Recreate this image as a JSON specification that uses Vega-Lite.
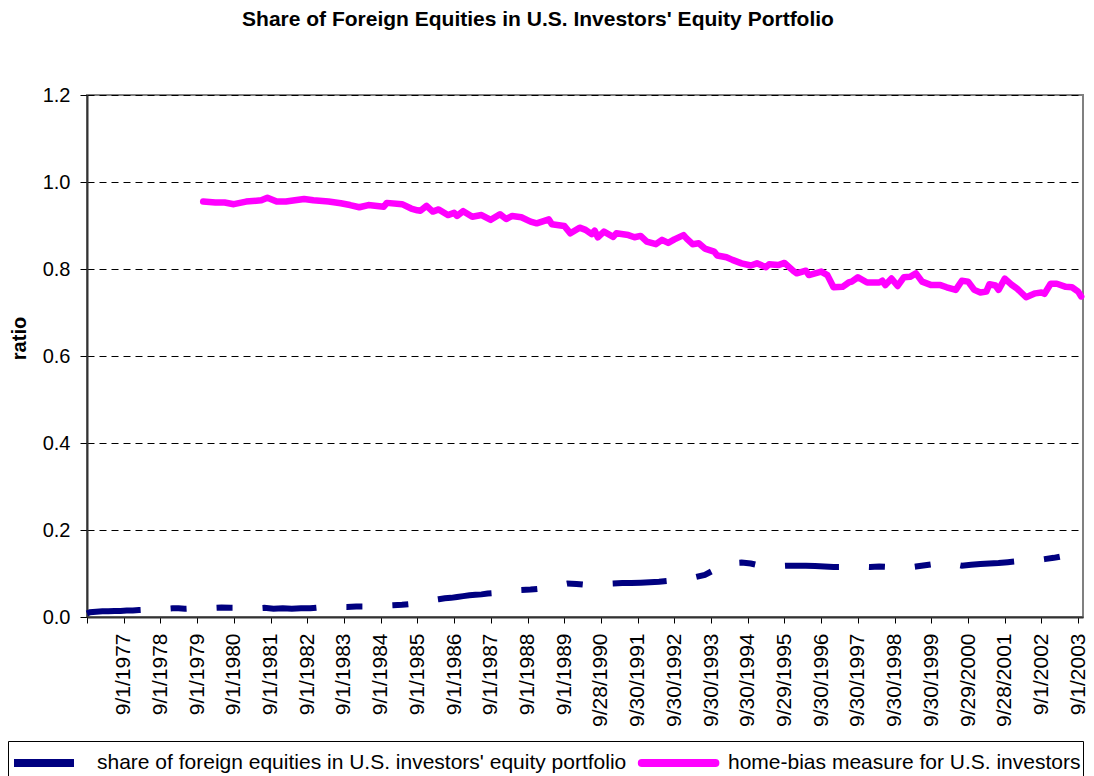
{
  "$schema": "https://vega.github.io/schema/vega-lite/v6.json",
  "width": 996,
  "height": 522,
  "autosize": {"type": "none"},
  "padding": {"left": 87, "top": 95, "right": 11, "bottom": 159},
  "background": "white",
  "title": {
    "text": "Share of Foreign Equities in U.S. Investors' Equity Portfolio",
    "font": "Liberation Sans",
    "fontSize": 21,
    "fontWeight": "bold",
    "color": "black",
    "anchor": "middle",
    "dx": -47,
    "offset": 55
  },
  "config": {
    "font": "Liberation Sans",
    "view": {"stroke": "#808080", "strokeWidth": 2}
  },
  "datasets": {
    "share": [
      {"date": "1976-09-01", "ratio": 0.008},
      {"date": "1976-10-01", "ratio": 0.011},
      {"date": "1976-12-01", "ratio": 0.012},
      {"date": "1977-02-01", "ratio": 0.013},
      {"date": "1977-04-01", "ratio": 0.013},
      {"date": "1977-06-01", "ratio": 0.014},
      {"date": "1977-08-01", "ratio": 0.014},
      {"date": "1977-10-01", "ratio": 0.015},
      {"date": "1977-12-01", "ratio": 0.015},
      {"date": "1978-02-01", "ratio": 0.016},
      {"date": "1978-05-01", "ratio": 0.017},
      {"date": "1978-08-01", "ratio": 0.018},
      {"date": "1978-11-01", "ratio": 0.019},
      {"date": "1979-01-01", "ratio": 0.020},
      {"date": "1979-03-01", "ratio": 0.020},
      {"date": "1979-05-01", "ratio": 0.019},
      {"date": "1979-08-01", "ratio": 0.020},
      {"date": "1979-11-01", "ratio": 0.021},
      {"date": "1980-02-01", "ratio": 0.021},
      {"date": "1980-05-01", "ratio": 0.022},
      {"date": "1980-08-01", "ratio": 0.021},
      {"date": "1980-11-01", "ratio": 0.021},
      {"date": "1981-02-01", "ratio": 0.020},
      {"date": "1981-05-01", "ratio": 0.020},
      {"date": "1981-07-01", "ratio": 0.021},
      {"date": "1981-10-01", "ratio": 0.019},
      {"date": "1982-01-01", "ratio": 0.020},
      {"date": "1982-04-01", "ratio": 0.019},
      {"date": "1982-07-01", "ratio": 0.020},
      {"date": "1982-10-01", "ratio": 0.020},
      {"date": "1983-01-01", "ratio": 0.022},
      {"date": "1983-04-01", "ratio": 0.023},
      {"date": "1983-07-01", "ratio": 0.023},
      {"date": "1983-10-01", "ratio": 0.023},
      {"date": "1984-01-01", "ratio": 0.024},
      {"date": "1984-04-01", "ratio": 0.024},
      {"date": "1984-07-01", "ratio": 0.025},
      {"date": "1984-10-01", "ratio": 0.026},
      {"date": "1985-01-01", "ratio": 0.027},
      {"date": "1985-04-01", "ratio": 0.028},
      {"date": "1985-07-01", "ratio": 0.030},
      {"date": "1985-10-01", "ratio": 0.034},
      {"date": "1986-01-01", "ratio": 0.038},
      {"date": "1986-04-01", "ratio": 0.041},
      {"date": "1986-06-01", "ratio": 0.043},
      {"date": "1986-08-01", "ratio": 0.044},
      {"date": "1986-10-01", "ratio": 0.046},
      {"date": "1986-12-01", "ratio": 0.048},
      {"date": "1987-02-01", "ratio": 0.050},
      {"date": "1987-04-01", "ratio": 0.051},
      {"date": "1987-06-01", "ratio": 0.052},
      {"date": "1987-08-01", "ratio": 0.054},
      {"date": "1987-10-01", "ratio": 0.055},
      {"date": "1988-01-01", "ratio": 0.058},
      {"date": "1988-04-01", "ratio": 0.060},
      {"date": "1988-07-01", "ratio": 0.062},
      {"date": "1988-10-01", "ratio": 0.063},
      {"date": "1989-01-01", "ratio": 0.065},
      {"date": "1989-04-01", "ratio": 0.069},
      {"date": "1989-07-01", "ratio": 0.073},
      {"date": "1989-10-01", "ratio": 0.077},
      {"date": "1990-01-01", "ratio": 0.076},
      {"date": "1990-04-01", "ratio": 0.074},
      {"date": "1990-07-01", "ratio": 0.076},
      {"date": "1990-10-01", "ratio": 0.076},
      {"date": "1991-01-01", "ratio": 0.077},
      {"date": "1991-04-01", "ratio": 0.078},
      {"date": "1991-07-01", "ratio": 0.078},
      {"date": "1991-10-01", "ratio": 0.079},
      {"date": "1992-01-01", "ratio": 0.080},
      {"date": "1992-04-01", "ratio": 0.081},
      {"date": "1992-07-01", "ratio": 0.083},
      {"date": "1992-10-01", "ratio": 0.085},
      {"date": "1993-01-01", "ratio": 0.088},
      {"date": "1993-04-01", "ratio": 0.092},
      {"date": "1993-07-01", "ratio": 0.097},
      {"date": "1993-10-01", "ratio": 0.108},
      {"date": "1994-01-01", "ratio": 0.120},
      {"date": "1994-04-01", "ratio": 0.124},
      {"date": "1994-07-01", "ratio": 0.125},
      {"date": "1994-10-01", "ratio": 0.123},
      {"date": "1995-01-01", "ratio": 0.118},
      {"date": "1995-04-01", "ratio": 0.116},
      {"date": "1995-07-01", "ratio": 0.117},
      {"date": "1995-10-01", "ratio": 0.118},
      {"date": "1996-01-01", "ratio": 0.118},
      {"date": "1996-04-01", "ratio": 0.118},
      {"date": "1996-07-01", "ratio": 0.117},
      {"date": "1996-10-01", "ratio": 0.116},
      {"date": "1997-01-01", "ratio": 0.115},
      {"date": "1997-04-01", "ratio": 0.115},
      {"date": "1997-07-01", "ratio": 0.116},
      {"date": "1997-10-01", "ratio": 0.116},
      {"date": "1998-01-01", "ratio": 0.115},
      {"date": "1998-04-01", "ratio": 0.116},
      {"date": "1998-07-01", "ratio": 0.115},
      {"date": "1998-10-01", "ratio": 0.114},
      {"date": "1999-01-01", "ratio": 0.113},
      {"date": "1999-04-01", "ratio": 0.116},
      {"date": "1999-07-01", "ratio": 0.119},
      {"date": "1999-10-01", "ratio": 0.122},
      {"date": "2000-01-01", "ratio": 0.125},
      {"date": "2000-04-01", "ratio": 0.122},
      {"date": "2000-07-01", "ratio": 0.118},
      {"date": "2000-10-01", "ratio": 0.120},
      {"date": "2001-01-01", "ratio": 0.122},
      {"date": "2001-04-01", "ratio": 0.123},
      {"date": "2001-07-01", "ratio": 0.124},
      {"date": "2001-10-01", "ratio": 0.126},
      {"date": "2002-01-01", "ratio": 0.128},
      {"date": "2002-04-01", "ratio": 0.129},
      {"date": "2002-07-01", "ratio": 0.130},
      {"date": "2002-10-01", "ratio": 0.133},
      {"date": "2003-01-01", "ratio": 0.136},
      {"date": "2003-04-01", "ratio": 0.140},
      {"date": "2003-07-01", "ratio": 0.141},
      {"date": "2003-10-01", "ratio": 0.140}
    ],
    "home": [
      {"date": "1979-11-01", "ratio": 0.955},
      {"date": "1980-03-01", "ratio": 0.953},
      {"date": "1980-06-01", "ratio": 0.953},
      {"date": "1980-09-01", "ratio": 0.949},
      {"date": "1981-01-01", "ratio": 0.955},
      {"date": "1981-06-01", "ratio": 0.958},
      {"date": "1981-08-01", "ratio": 0.964},
      {"date": "1981-11-01", "ratio": 0.955},
      {"date": "1982-02-01", "ratio": 0.955},
      {"date": "1982-05-01", "ratio": 0.958},
      {"date": "1982-08-01", "ratio": 0.961},
      {"date": "1982-11-01", "ratio": 0.958},
      {"date": "1983-04-01", "ratio": 0.955},
      {"date": "1983-08-01", "ratio": 0.951},
      {"date": "1983-11-01", "ratio": 0.947},
      {"date": "1984-02-01", "ratio": 0.942},
      {"date": "1984-05-01", "ratio": 0.947},
      {"date": "1984-10-01", "ratio": 0.943},
      {"date": "1984-11-01", "ratio": 0.952},
      {"date": "1985-04-01", "ratio": 0.949},
      {"date": "1985-07-01", "ratio": 0.939},
      {"date": "1985-09-01", "ratio": 0.935},
      {"date": "1985-10-01", "ratio": 0.934},
      {"date": "1985-12-01", "ratio": 0.945},
      {"date": "1986-02-01", "ratio": 0.932},
      {"date": "1986-04-01", "ratio": 0.937},
      {"date": "1986-07-01", "ratio": 0.924},
      {"date": "1986-09-01", "ratio": 0.929},
      {"date": "1986-10-01", "ratio": 0.922},
      {"date": "1986-12-01", "ratio": 0.933},
      {"date": "1987-03-01", "ratio": 0.920},
      {"date": "1987-06-01", "ratio": 0.924},
      {"date": "1987-09-01", "ratio": 0.913},
      {"date": "1987-12-01", "ratio": 0.926},
      {"date": "1988-02-01", "ratio": 0.915},
      {"date": "1988-04-01", "ratio": 0.922},
      {"date": "1988-07-01", "ratio": 0.919},
      {"date": "1988-10-01", "ratio": 0.909},
      {"date": "1988-12-01", "ratio": 0.905},
      {"date": "1989-04-01", "ratio": 0.914},
      {"date": "1989-05-01", "ratio": 0.903},
      {"date": "1989-09-01", "ratio": 0.899},
      {"date": "1989-11-01", "ratio": 0.882},
      {"date": "1990-02-01", "ratio": 0.895},
      {"date": "1990-04-01", "ratio": 0.890},
      {"date": "1990-06-01", "ratio": 0.880},
      {"date": "1990-07-01", "ratio": 0.888},
      {"date": "1990-08-01", "ratio": 0.873},
      {"date": "1990-10-01", "ratio": 0.886},
      {"date": "1991-01-01", "ratio": 0.874},
      {"date": "1991-02-01", "ratio": 0.882},
      {"date": "1991-06-01", "ratio": 0.878},
      {"date": "1991-08-01", "ratio": 0.873},
      {"date": "1991-10-01", "ratio": 0.876},
      {"date": "1991-12-01", "ratio": 0.863},
      {"date": "1992-03-01", "ratio": 0.857},
      {"date": "1992-05-01", "ratio": 0.867},
      {"date": "1992-07-01", "ratio": 0.860},
      {"date": "1992-09-01", "ratio": 0.868},
      {"date": "1992-12-01", "ratio": 0.878},
      {"date": "1993-01-01", "ratio": 0.870},
      {"date": "1993-03-01", "ratio": 0.857},
      {"date": "1993-05-01", "ratio": 0.859},
      {"date": "1993-07-01", "ratio": 0.847},
      {"date": "1993-10-01", "ratio": 0.840},
      {"date": "1993-11-01", "ratio": 0.831},
      {"date": "1994-02-01", "ratio": 0.827},
      {"date": "1994-04-01", "ratio": 0.821},
      {"date": "1994-07-01", "ratio": 0.813},
      {"date": "1994-10-01", "ratio": 0.808},
      {"date": "1994-12-01", "ratio": 0.813},
      {"date": "1995-03-01", "ratio": 0.804},
      {"date": "1995-04-01", "ratio": 0.811},
      {"date": "1995-07-01", "ratio": 0.809},
      {"date": "1995-09-01", "ratio": 0.814},
      {"date": "1995-12-01", "ratio": 0.795},
      {"date": "1996-01-01", "ratio": 0.790},
      {"date": "1996-04-01", "ratio": 0.796},
      {"date": "1996-05-01", "ratio": 0.786},
      {"date": "1996-09-01", "ratio": 0.794},
      {"date": "1996-11-01", "ratio": 0.786},
      {"date": "1997-01-01", "ratio": 0.758},
      {"date": "1997-04-01", "ratio": 0.759},
      {"date": "1997-06-01", "ratio": 0.769},
      {"date": "1997-07-01", "ratio": 0.771},
      {"date": "1997-09-01", "ratio": 0.781},
      {"date": "1997-10-01", "ratio": 0.777},
      {"date": "1997-12-01", "ratio": 0.769},
      {"date": "1998-04-01", "ratio": 0.769},
      {"date": "1998-05-01", "ratio": 0.773},
      {"date": "1998-06-01", "ratio": 0.763},
      {"date": "1998-08-01", "ratio": 0.778},
      {"date": "1998-10-01", "ratio": 0.761},
      {"date": "1998-12-01", "ratio": 0.781},
      {"date": "1999-02-01", "ratio": 0.782},
      {"date": "1999-04-01", "ratio": 0.790},
      {"date": "1999-06-01", "ratio": 0.771},
      {"date": "1999-09-01", "ratio": 0.763},
      {"date": "1999-12-01", "ratio": 0.763},
      {"date": "2000-02-01", "ratio": 0.758},
      {"date": "2000-05-01", "ratio": 0.752},
      {"date": "2000-07-01", "ratio": 0.773},
      {"date": "2000-09-01", "ratio": 0.771},
      {"date": "2000-11-01", "ratio": 0.752},
      {"date": "2001-01-01", "ratio": 0.746},
      {"date": "2001-03-01", "ratio": 0.748},
      {"date": "2001-04-01", "ratio": 0.765},
      {"date": "2001-06-01", "ratio": 0.762},
      {"date": "2001-07-01", "ratio": 0.752},
      {"date": "2001-09-01", "ratio": 0.778},
      {"date": "2001-11-01", "ratio": 0.765},
      {"date": "2002-01-01", "ratio": 0.755},
      {"date": "2002-04-01", "ratio": 0.735},
      {"date": "2002-07-01", "ratio": 0.744},
      {"date": "2002-09-01", "ratio": 0.746},
      {"date": "2002-10-01", "ratio": 0.743},
      {"date": "2002-12-01", "ratio": 0.766},
      {"date": "2003-02-01", "ratio": 0.766},
      {"date": "2003-05-01", "ratio": 0.759},
      {"date": "2003-07-01", "ratio": 0.758},
      {"date": "2003-09-01", "ratio": 0.748},
      {"date": "2003-10-01", "ratio": 0.737}
    ]
  },
  "encoding": {
    "x": {
      "field": "date",
      "type": "temporal",
      "scale": {
        "type": "utc",
        "domain": [
          {"year": 1976, "month": 9, "date": 1, "utc": true},
          {"year": 2003, "month": 10, "date": 19, "utc": true}
        ],
        "nice": false
      },
      "axis": {
        "title": null,
        "grid": false,
        "values": [
          {"year": 1976, "month": 9, "date": 1, "utc": true},
          {"year": 1977, "month": 9, "date": 1, "utc": true},
          {"year": 1978, "month": 9, "date": 1, "utc": true},
          {"year": 1979, "month": 9, "date": 1, "utc": true},
          {"year": 1980, "month": 9, "date": 1, "utc": true},
          {"year": 1981, "month": 9, "date": 1, "utc": true},
          {"year": 1982, "month": 9, "date": 1, "utc": true},
          {"year": 1983, "month": 9, "date": 1, "utc": true},
          {"year": 1984, "month": 9, "date": 1, "utc": true},
          {"year": 1985, "month": 9, "date": 1, "utc": true},
          {"year": 1986, "month": 9, "date": 1, "utc": true},
          {"year": 1987, "month": 9, "date": 1, "utc": true},
          {"year": 1988, "month": 9, "date": 1, "utc": true},
          {"year": 1989, "month": 9, "date": 1, "utc": true},
          {"year": 1990, "month": 9, "date": 1, "utc": true},
          {"year": 1991, "month": 9, "date": 1, "utc": true},
          {"year": 1992, "month": 9, "date": 1, "utc": true},
          {"year": 1993, "month": 9, "date": 1, "utc": true},
          {"year": 1994, "month": 9, "date": 1, "utc": true},
          {"year": 1995, "month": 9, "date": 1, "utc": true},
          {"year": 1996, "month": 9, "date": 1, "utc": true},
          {"year": 1997, "month": 9, "date": 1, "utc": true},
          {"year": 1998, "month": 9, "date": 1, "utc": true},
          {"year": 1999, "month": 9, "date": 1, "utc": true},
          {"year": 2000, "month": 9, "date": 1, "utc": true},
          {"year": 2001, "month": 9, "date": 1, "utc": true},
          {"year": 2002, "month": 9, "date": 1, "utc": true},
          {"year": 2003, "month": 9, "date": 1, "utc": true}
        ],
        "labelExpr": "utcyear(datum.value) < 1977 ? '' : (({'1990':'9/28/1990','1991':'9/30/1991','1992':'9/30/1992','1993':'9/30/1993','1994':'9/30/1994','1995':'9/29/1995','1996':'9/30/1996','1997':'9/30/1997','1998':'9/30/1998','1999':'9/30/1999','2000':'9/29/2000','2001':'9/28/2001'})[utcyear(datum.value)] || ('9/1/' + utcyear(datum.value)))",
        "labelAngle": -90,
        "labelFont": "Liberation Sans",
        "labelFontSize": 21,
        "labelColor": "black",
        "labelPadding": 10,
        "labelOverlap": false,
        "labelFlush": false,
        "labelBound": false,
        "tickSize": 6,
        "tickColor": "black",
        "domainColor": "#333333",
        "domainWidth": 2
      }
    },
    "y": {
      "field": "ratio",
      "type": "quantitative",
      "scale": {"domain": [0, 1.2], "nice": false, "zero": true},
      "axis": {
        "title": "ratio",
        "titleFont": "Liberation Sans",
        "titleFontSize": 20,
        "titleFontWeight": "bold",
        "titleColor": "black",
        "titleAngle": -90,
        "titleX": -68,
        "titleY": 243,
        "titleBaseline": "middle",
        "titleAlign": "center",
        "values": [0, 0.2, 0.4, 0.6, 0.8, 1.0, 1.2],
        "format": ".1f",
        "labelFont": "Liberation Sans",
        "labelFontSize": 20,
        "labelColor": "black",
        "labelPadding": 10,
        "tickSize": 7,
        "tickColor": "black",
        "domainColor": "#333333",
        "domainWidth": 2,
        "grid": true,
        "gridColor": "black",
        "gridDash": [7, 5],
        "gridWidth": 1
      }
    }
  },
  "layer": [
    {
      "data": {"name": "share"},
      "mark": {
        "type": "line",
        "strokeWidth": 6,
        "strokeDash": [54, 30, 16, 30, 16, 30],
        "strokeCap": "butt"
      },
      "encoding": {
        "color": {
          "datum": "share of foreign equities in U.S. investors' equity portfolio",
          "type": "nominal",
          "scale": {
            "domain": [
              "share of foreign equities in U.S. investors' equity portfolio",
              "home-bias measure for U.S. investors"
            ],
            "range": ["#000080", "#FF00FF"]
          },
          "legend": {
            "title": null,
            "orient": "none",
            "legendX": -79,
            "legendY": 646,
            "direction": "horizontal",
            "columns": 2,
            "symbolType": "M-1,0H2.75",
            "symbolSize": 1024,
            "symbolStrokeWidth": 8,
            "labelFont": "Liberation Sans",
            "labelFontSize": 21,
            "labelColor": "black",
            "labelLimit": 0,
            "labelOffset": 47,
            "columnPadding": -2,
            "padding": 2,
            "strokeColor": "black",
            "fillColor": "white",
            "symbolOpacity": 1,
            "encode": {
              "symbols": {
                "update": {
                  "shape": {"signal": "datum.index == 0 ? 'M-1,0H2.75' : 'M-1.2,0H3.4'"},
                  "strokeCap": {"signal": "datum.index == 0 ? 'butt' : 'round'"},
                  "strokeDash": {"value": [1, 0]},
                  "strokeWidth": {"value": 8},
                  "fill": {"value": "transparent"}
                }
              }
            }
          }
        }
      }
    },
    {
      "data": {"name": "home"},
      "mark": {
        "type": "line",
        "strokeWidth": 6.5,
        "strokeCap": "round",
        "strokeJoin": "round"
      },
      "encoding": {
        "color": {
          "datum": "home-bias measure for U.S. investors",
          "type": "nominal"
        }
      }
    }
  ]
}
